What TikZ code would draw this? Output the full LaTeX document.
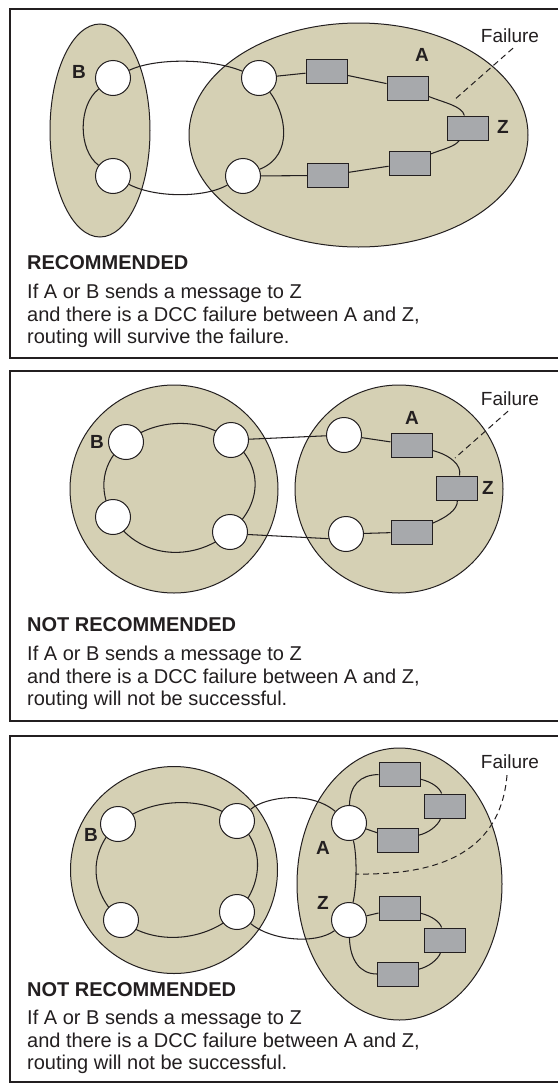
\documentclass[tikz,border=0pt]{standalone}
\usepackage{fontspec}
\setmainfont{Liberation Sans}
\usetikzlibrary{shapes.geometric}
\definecolor{domfill}{RGB}{213,208,180}
\definecolor{boxfill}{RGB}{167,169,172}
\definecolor{ink}{RGB}{35,31,32}
\pgfdeclarelayer{bg}
\pgfdeclarelayer{mid}
\pgfsetlayers{bg,mid,main}
\begin{document}
\begin{tikzpicture}[x=1pt,y=1pt,
  frame/.style={draw=ink, line width=2.6pt},
  dom/.style={draw=ink, fill=domfill, line width=1pt, inner sep=0pt},
  ne/.style={circle, draw=ink, fill=white, line width=1pt, minimum size=35pt, inner sep=0pt},
  box/.style={rectangle, draw=ink, fill=boxfill, line width=1pt, minimum width=41pt, minimum height=24pt, inner sep=0pt},
  link/.style={draw=ink, line width=1.05pt},
  lbl/.style={font=\fontsize{19}{19}\selectfont\bfseries, text=ink, inner sep=0pt},
  fail/.style={font=\fontsize{19}{19}\selectfont, text=ink, inner sep=0pt},
  fline/.style={draw=ink, line width=1pt, dash pattern=on 6pt off 4pt},
  txt/.style={font=\fontsize{20}{24}\selectfont, text=ink, inner sep=0pt, anchor=base west},
  head/.style={font=\fontsize{20}{24}\selectfont\bfseries, text=ink, inner sep=0pt, anchor=base west}
]
\useasboundingbox (0,0) rectangle (557,-1084);
\begin{pgfonlayer}{bg}
\fill[white] (0,0) rectangle (557,-1084);
\draw[frame] (10,-9) rectangle (562,-358);
\draw[frame] (10,-371) rectangle (562,-721);
\draw[frame] (10,-736) rectangle (562,-1082);
\node[dom, ellipse, minimum width=100pt, minimum height=213pt] (aB) at (100,-130.5) {};
\node[dom, ellipse, minimum width=339pt, minimum height=224pt] (aA) at (358.5,-135) {};
\node[dom, circle, minimum size=208pt] (bB) at (174,-489) {};
\node[dom, circle, minimum size=208pt] (bA) at (399,-489) {};
\node[dom, circle, minimum size=207pt] (cB) at (174,-870) {};
\node[dom, ellipse, minimum width=205pt, minimum height=272pt] (cA) at (399.5,-884) {};
\end{pgfonlayer}

% ===== Panel 1 =====
\node[ne] (aB1) at (113,-78) {};
\node[ne] (aB2) at (113,-176) {};
\node[ne] (aA1) at (259,-78) {};
\node[ne] (aA2) at (243,-176) {};
\node[box] (aR1) at (326.5,-71) {};
\node[box] (aR2) at (407.5,-88) {};
\node[box] (aZ) at (467.5,-128) {};
\node[box] (aR4) at (409.5,-163) {};
\node[box] (aR5) at (328,-175.5) {};
\begin{pgfonlayer}{mid}
\draw[link] (aB1) .. controls (78,-105) and (78,-150) .. (aB2);
\draw[link] (aA1) .. controls (285,-112) and (295,-155) .. (aA2);
\draw[link] (aB1) .. controls (155,-58) and (210,-58) .. (aA1);
\draw[link] (aB2) .. controls (155,-198) and (205,-198) .. (aA2);
\draw[link] (aA1) -- (aR1);
\draw[link] (aR1) -- (aR2);
\draw[link] (aR2) .. controls (445,-103) and (462,-106) .. (aZ);
\draw[link] (aZ) .. controls (455,-147) and (440,-150) .. (aR4);
\draw[link] (aR4) -- (aR5);
\draw[link] (aR5) -- (aA2);
\end{pgfonlayer}
\node[lbl] (aLB) at (79,-72) {B};
\node[lbl] (aLA) at (422,-55) {A};
\node[lbl] (aLZ) at (503,-127) {Z};
\node[fail] (aF) at (510,-36) {Failure};
\coordinate (aFe) at (453,-101);
\draw[fline] ([shift={(3pt,-5pt)}]aF.south) -- (aFe);
\node[head] (aH) at (27,-269) {RECOMMENDED};
\node[txt] (aT1) at (27,-298) {If A or B sends a message to Z};
\node[txt] (aT2) at (27,-321) {and there is a DCC failure between A and Z,};
\node[txt] (aT3) at (27,-343) {routing will survive the failure.};

% ===== Panel 2 =====
\node[ne] (bTL) at (126,-442) {};
\node[ne] (bTR) at (231,-440) {};
\node[ne] (bBL) at (113,-517) {};
\node[ne] (bBR) at (230,-532) {};
\node[ne] (bA1) at (344,-435) {};
\node[ne] (bA2) at (346,-534) {};
\node[box] (bRA) at (411.5,-445) {};
\node[box] (bZ) at (456.5,-488) {};
\node[box] (bR3) at (411.5,-532) {};
\begin{pgfonlayer}{mid}
\draw[link] (bTR.center) .. controls (200.4,-416.9) and (155.9,-418.3) .. (bTL.center);
\draw[link] (bTL.center) .. controls (101,-461.8) and (97.9,-491.1) .. (bBL.center);
\draw[link] (bBL.center) .. controls (136.8,-557.7) and (191.6,-564.1) .. (bBR.center);
\draw[link] (bBR.center) .. controls (262,-505.3) and (264.6,-465.3) .. (bTR.center);
\draw[link] (bTR) -- (bA1);
\draw[link] (bBR.-8) -- (bA2.195);
\draw[link] (bA1) -- (bRA);
\draw[link] (bRA) .. controls (450,-455) and (462,-465) .. (bZ);
\draw[link] (bZ) .. controls (458,-510) and (445,-518) .. (bR3);
\draw[link] (bR3) -- (bA2);
\end{pgfonlayer}
\node[lbl] (bLB) at (97,-442) {B};
\node[lbl] (bLA) at (412,-418) {A};
\node[lbl] (bLZ) at (488,-488) {Z};
\node[fail] (bF) at (510,-399) {Failure};
\coordinate (bFe) at (455,-458);
\draw[fline] ([shift={(-2pt,-5pt)}]bF.south) -- (bFe);
\node[head] (bH) at (27,-631) {NOT RECOMMENDED};
\node[txt] (bT1) at (27,-660) {If A or B sends a message to Z};
\node[txt] (bT2) at (27,-683) {and there is a DCC failure between A and Z,};
\node[txt] (bT3) at (27,-705) {routing will not be successful.};

% ===== Panel 3 =====
\node[ne] (cTL) at (118,-824) {};
\node[ne] (cTR) at (237,-821) {};
\node[ne] (cBL) at (121,-920) {};
\node[ne] (cBR) at (237,-912) {};
\node[ne] (cA1) at (349,-823) {};
\node[ne] (cZ1) at (349,-920) {};
\node[box] (cU1) at (399.5,-774) {};
\node[box] (cU2) at (445,-806) {};
\node[box] (cU3) at (398,-840) {};
\node[box] (cL1) at (399.5,-908) {};
\node[box] (cL2) at (445,-940) {};
\node[box] (cL3) at (398,-974) {};
\begin{pgfonlayer}{mid}
\draw[link] (cTR.center) .. controls (206,-794.5) and (149,-797.5) .. (cTL.center);
\draw[link] (cTL.center) .. controls (87.2,-850.4) and (89.4,-894.3) .. (cBL.center);
\draw[link] (cBL.center) .. controls (153.9,-946.8) and (207.6,-941.5) .. (cBR.center);
\draw[link] (cBR.center) .. controls (263.2,-885.8) and (265.5,-845.4) .. (cTR.center);
\draw[link] (cTR) .. controls (265,-797) and (310,-790) .. (cA1);
\draw[link] (cBR) .. controls (270,-940) and (315,-945) .. (cZ1);
\draw[link] (cA1) .. controls (357,-855) and (357,-885) .. (cZ1);
\draw[link] (cA1) .. controls (350,-785) and (360,-775) .. (cU1);
\draw[link] (cU1) .. controls (432,-782) and (440,-788) .. (cU2);
\draw[link] (cU2) .. controls (438,-826) and (428,-833) .. (cU3);
\draw[link] (cU3) -- (cA1);
\draw[link] (cZ1) -- (cL1);
\draw[link] (cL1) .. controls (432,-916) and (440,-922) .. (cL2);
\draw[link] (cL2) .. controls (438,-960) and (428,-967) .. (cL3);
\draw[link] (cL3) .. controls (360,-974) and (350,-960) .. (cZ1);
\end{pgfonlayer}
\node[lbl] (cLB) at (91,-835) {B};
\node[lbl] (cLA) at (323,-848) {A};
\node[lbl] (cLZ) at (323,-903) {Z};
\node[fail] (cF) at (510,-762) {Failure};
\coordinate (cFe) at (356,-874);
\draw[fline] ([shift={(-3pt,-6pt)}]cF.south) .. controls (500,-858) and (430,-875) .. (cFe);
\node[head] (cH) at (27,-996) {NOT RECOMMENDED};
\node[txt] (cT1) at (27,-1024) {If A or B sends a message to Z};
\node[txt] (cT2) at (27,-1047) {and there is a DCC failure between A and Z,};
\node[txt] (cT3) at (27,-1069) {routing will not be successful.};
\end{tikzpicture}
\end{document}
